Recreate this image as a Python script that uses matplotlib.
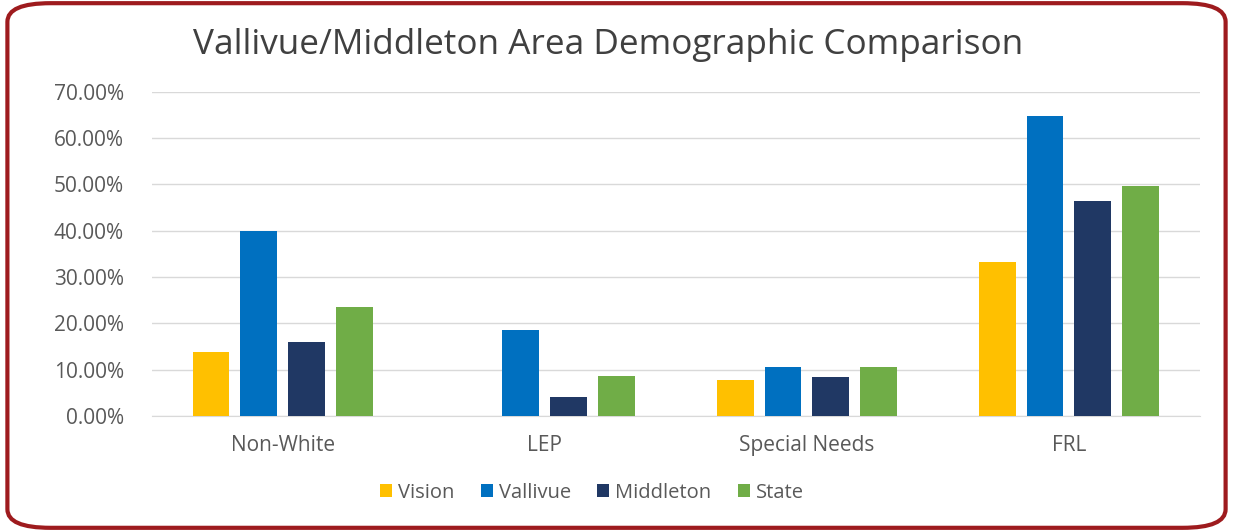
import matplotlib.pyplot as plt
from matplotlib.patches import FancyBboxPatch
from matplotlib.ticker import FuncFormatter
import numpy as np

plt.rcParams['font.family'] = ['Open Sans', 'DejaVu Sans']

categories = ['Non-White', 'LEP', 'Special Needs', 'FRL']
series = ['Vision', 'Vallivue', 'Middleton', 'State']
vision = [13.7, 0.0, 7.8, 33.2]
vallivue = [39.9, 18.6, 10.6, 64.7]
middleton = [16.0, 4.0, 8.3, 46.4]
state = [23.6, 8.6, 10.6, 49.6]
colors = ['#FFC000', '#0070C0', '#203864', '#70AD47']

fig = plt.figure(figsize=(12.33, 5.31), dpi=100)
ax = fig.add_axes([0.123, 0.217, 0.85, 0.61])

x = np.arange(len(categories))
step = 0.182
bw = 0.14
for i, (name, vals) in enumerate(zip(series, [vision, vallivue, middleton, state])):
    ax.bar(x + (i - 1.5) * step, vals, width=bw, color=colors[i], label=name, zorder=3)

ax.set_xlim(-0.5, 3.5)
ax.set_ylim(0, 70)
ax.set_yticks(np.arange(0, 71, 10))
ax.yaxis.set_major_formatter(FuncFormatter(lambda v, p: '%.2f%%' % v))
ax.set_xticks(x)
ax.set_xticklabels(categories)
ax.grid(axis='y', color='#D9D9D9', linewidth=1, zorder=0)
for s in ['top', 'right', 'left']:
    ax.spines[s].set_visible(False)
ax.spines['bottom'].set_color('#D9D9D9')
ax.tick_params(axis='both', length=0, labelsize=15, labelcolor='#595959')
ax.tick_params(axis='x', pad=14)
ax.tick_params(axis='y', pad=20)

fig.text(0.4935, 0.915, 'Vallivue/Middleton Area Demographic Comparison',
         ha='center', va='center', fontsize=25.3, color='#404040')

fig.legend(loc='center', bbox_to_anchor=(0.48, 0.072), ncol=4, frameon=False,
           fontsize=14.5, labelcolor='#595959', handlelength=0.6, handleheight=0.6,
           columnspacing=1.3, handletextpad=0.3)

border = FancyBboxPatch((0.006, 0.006), 0.988, 0.988,
                        boxstyle='round,pad=0,rounding_size=0.035',
                        transform=fig.transFigure, fill=False,
                        edgecolor='#9E1B1E', linewidth=3)
fig.patches.append(border)

fig.savefig('out.png', dpi=100)
